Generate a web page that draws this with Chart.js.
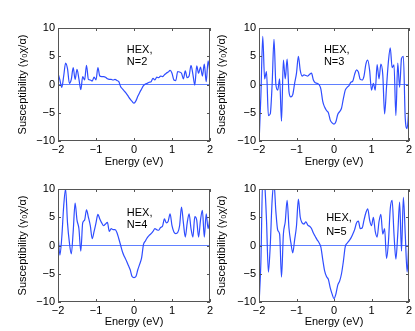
<!DOCTYPE html>
<html lang="en">
<head>
  <meta charset="UTF-8">
  <title>HEX susceptibility</title>
  <script src="https://cdn.jsdelivr.net/npm/chart.js"></script>
  <style>
    body { margin: 0; background: #fff; }
    #wrap { position: relative; width: 415px; height: 331px; overflow: hidden; }
    canvas { position: absolute; }
  </style>
</head>
<body>
<div id="wrap">
  <canvas id="c2" width="222" height="171" style="left:0;top:0"></canvas>
  <canvas id="c3" width="200" height="171" style="left:215px;top:0"></canvas>
  <canvas id="c4" width="222" height="171" style="left:0;top:160px"></canvas>
  <canvas id="c5" width="200" height="171" style="left:215px;top:160px"></canvas>
</div>
<script>
// energy grid (eV)
const energy = [-2.00,-1.95,-1.90,-1.85,-1.80,-1.75,-1.70,-1.65,-1.60,-1.55,-1.50,-1.45,-1.40,-1.35,-1.30,-1.25,-1.20,-1.15,-1.10,-1.05,
  -1.00,-0.95,-0.90,-0.85,-0.80,-0.75,-0.70,-0.65,-0.60,-0.55,-0.50,-0.45,-0.40,-0.35,-0.30,-0.25,-0.20,-0.15,-0.10,-0.05,
  0.00,0.05,0.10,0.15,0.20,0.25,0.30,0.35,0.40,0.45,0.50,0.55,0.60,0.65,0.70,0.75,0.80,0.85,0.90,0.95,
  1.00,1.05,1.10,1.15,1.20,1.25,1.30,1.35,1.40,1.45,1.50,1.55,1.60,1.65,1.70,1.75,1.80,1.85,1.90,1.95,2.00];

const chiN2 = [2.0,0.8,-0.5,1.5,3.8,2.8,0.2,0.9,3.0,0.9,2.7,1.0,-0.9,1.4,0.8,3.4,0.9,0.8,0.6,1.3,
  0.8,3.0,1.5,1.4,1.4,1.3,1.0,0.9,0.9,0.8,0.9,0.7,0.5,-0.4,-0.8,-1.2,-1.6,-2.1,-2.6,-3.0,
  -3.3,-2.9,-2.1,-1.4,-0.8,-0.2,0.1,0.2,0.4,0.5,1.1,0.8,1.3,1.2,1.5,1.4,1.7,2.0,2.2,2.5,
  2.0,0.8,0.7,2.3,2.2,2.0,1.0,2.4,1.2,1.5,3.4,1.8,-0.1,3.3,2.0,3.1,1.5,3.6,0.5,4.2,2.0];

const chiN3 = [-10.5,-2.0,8.5,1.0,2.3,-5.5,-5.2,0.0,8.0,0.0,-1.0,1.0,-6.5,4.3,1.0,4.5,-1.3,-2.2,-1.8,0.2,
  2.0,5.0,2.5,1.5,1.7,1.6,1.5,1.8,2.0,0.8,0.3,0.2,0.0,-0.8,-3.0,-4.0,-4.6,-5.0,-6.3,-6.8,
  -7.0,-6.6,-5.3,-4.8,-4.2,-2.5,-1.0,-0.5,-0.2,0.4,0.6,1.8,2.6,2.2,0.9,0.8,1.5,3.6,4.3,2.5,
  -1.0,0.2,-1.0,3.5,1.0,3.6,1.8,-5.2,-0.5,4.0,6.5,3.0,3.5,-5.5,3.8,-0.5,4.6,5.0,-6.0,-7.8,-3.7];

const chiN4 = [2.0,-1.7,1.5,7.0,10.0,4.0,0.5,-1.5,2.5,7.5,4.5,3.0,-1.0,4.0,4.5,6.3,5.0,3.5,1.2,2.5,
  4.0,5.5,4.7,4.0,3.5,3.8,4.1,2.5,3.0,2.8,2.8,2.3,1.2,0.0,-1.2,-2.0,-2.7,-3.5,-4.3,-5.5,
  -5.7,-5.5,-4.3,-3.3,-2.2,0.2,0.8,1.4,1.8,2.1,2.5,3.0,2.8,2.7,3.2,3.4,4.7,4.0,4.3,5.6,
  3.5,2.4,2.1,2.3,3.5,6.8,4.0,1.5,4.0,5.6,3.0,1.5,5.1,4.5,1.5,4.5,6.2,1.5,5.6,3.0,5.0];

const chiN5 = [-10.5,-3.0,12.0,11.0,4.5,-4.7,0.0,8.0,11.0,6.0,2.7,2.0,-5.6,2.0,4.2,8.0,3.0,0.5,-1.3,1.0,
  3.5,8.2,5.0,4.0,3.8,4.2,3.6,3.4,3.0,2.2,1.6,1.0,0.5,-0.3,-2.5,-4.5,-5.5,-6.0,-7.5,-8.6,
  -9.4,-8.6,-7.0,-6.3,-5.0,-2.8,-0.2,0.4,0.8,1.3,2.0,2.8,4.0,4.3,3.0,3.1,4.5,5.8,6.5,4.5,
  3.5,5.0,2.5,1.5,4.2,5.5,2.0,3.0,-2.3,0.5,6.5,8.0,2.0,-2.4,2.0,7.7,-1.0,8.5,2.0,-4.7,1.2];

const xTicks = [-2, -1, 0, 1, 2];
const yTicks = [-10, -5, 0, 5, 10];

const panels = [
  { id: 'c2', values: chiN2, label: ['HEX,', 'N=2'], at: [-0.19, 6.2, 3.9], yW: 58, titlePad: 16, top: 28, right: 12, xH: 30 },
  { id: 'c3', values: chiN3, label: ['HEX,', 'N=3'], at: [-0.27, 6.2, 4.0], yW: 44, titlePad: 0, top: 28, right: 6, xH: 30 },
  { id: 'c4', values: chiN4, label: ['HEX,', 'N=4'], at: [-0.19, 5.7, 3.6], yW: 58, titlePad: 16, top: 29, right: 12, xH: 29 },
  { id: 'c5', values: chiN5, label: ['HEX,', 'N=5'], at: [-0.21, 4.8, 2.4], yW: 44, titlePad: 0, top: 29, right: 6, xH: 29 }
];

const FONT = { family: "'Liberation Sans', Arial, sans-serif", size: 11 };

// frame with inward ticks + HEX label
const framePlugin = {
  id: 'frame',
  afterDatasetsDraw(chart, args, opts) {
    const { ctx, chartArea: a, scales: { x, y } } = chart;
    ctx.save();
    ctx.strokeStyle = '#555';
    ctx.lineWidth = 1;
    ctx.strokeRect(a.left + 0.5, a.top + 0.5, a.right - a.left - 1, a.bottom - a.top - 1);
    ctx.beginPath();
    xTicks.forEach(v => {
      const px = Math.round(x.getPixelForValue(v)) + 0.5;
      ctx.moveTo(px, a.bottom); ctx.lineTo(px, a.bottom - 3);
      ctx.moveTo(px, a.top); ctx.lineTo(px, a.top + 3);
    });
    yTicks.forEach(v => {
      const py = Math.round(y.getPixelForValue(v)) + 0.5;
      ctx.moveTo(a.left, py); ctx.lineTo(a.left + 3, py);
      ctx.moveTo(a.right, py); ctx.lineTo(a.right - 3, py);
    });
    ctx.stroke();
    ctx.fillStyle = '#000';
    ctx.font = FONT.size + 'px ' + FONT.family;
    ctx.textBaseline = 'middle';
    ctx.textAlign = 'left';
    const px = x.getPixelForValue(opts.at[0]);
    ctx.fillText(opts.label[0], px, y.getPixelForValue(opts.at[1]));
    ctx.fillText(opts.label[1], px, y.getPixelForValue(opts.at[2]));
    ctx.restore();
  }
};

panels.forEach(p => {
  new Chart(document.getElementById(p.id), {
    type: 'line',
    data: {
      datasets: [{
        data: energy.map((e, i) => ({ x: e, y: p.values[i] })),
        borderColor: '#2f4dff',
        borderWidth: 1.2,
        pointRadius: 0,
        cubicInterpolationMode: 'monotone',
        fill: false
      }]
    },
    plugins: [framePlugin],
    options: {
      responsive: false,
      animation: false,
      layout: { padding: { top: p.top, right: p.right, left: 0, bottom: 0 } },
      plugins: {
        legend: { display: false },
        tooltip: { enabled: false },
        frame: { label: p.label, at: p.at }
      },
      scales: {
        x: {
          type: 'linear', min: -2, max: 2,
          afterBuildTicks: s => { s.ticks = xTicks.map(v => ({ value: v })); },
          afterFit: s => { s.height = p.xH; },
          ticks: { color: '#000', font: FONT, padding: 2, maxRotation: 0,
                   callback: v => (v < 0 ? '\u2212' + Math.abs(v) : '' + v) },
          grid: { display: false, drawTicks: false },
          border: { display: false },
          title: { display: true, text: 'Energy (eV)', color: '#000', font: FONT, padding: { top: 0, bottom: 2 } }
        },
        y: {
          type: 'linear', min: -10, max: 10,
          afterBuildTicks: s => { s.ticks = yTicks.map(v => ({ value: v })); },
          afterFit: s => { s.width = p.yW; },
          ticks: { color: '#000', font: FONT, padding: 3,
                   callback: v => (v < 0 ? '\u2212' + Math.abs(v) : '' + v) },
          grid: {
            drawTicks: false,
            color: c => (c.tick && c.tick.value === 0 ? '#5f7fff' : 'rgba(0,0,0,0)'),
            lineWidth: 1
          },
          border: { display: false },
          title: { display: true, text: 'Susceptibility (\u03b3\u2080\u03c7/\u03b1)', color: '#000', font: FONT, padding: { top: p.titlePad, bottom: 0 } }
        }
      }
    }
  });
});
</script>
</body>
</html>
